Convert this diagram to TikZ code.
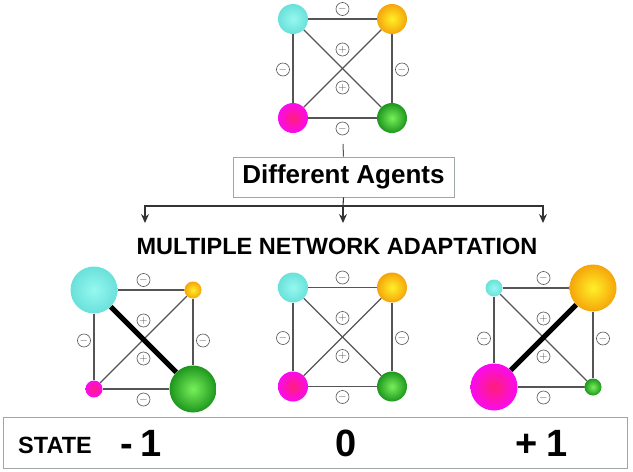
\documentclass[tikz,border=0pt]{standalone}
\usepackage{fontspec}
\setmainfont{Liberation Sans}
\usetikzlibrary{positioning}
\usetikzlibrary{arrows.meta}
\definecolor{cyanhi}{RGB}{150,248,240}
\definecolor{cyanlo}{RGB}{105,225,218}
\definecolor{yellowhi}{RGB}{255,240,40}
\definecolor{yellowlo}{RGB}{245,165,10}
\definecolor{magentahi}{RGB}{255,30,120}
\definecolor{magentalo}{RGB}{250,10,240}
\definecolor{greenhi}{RGB}{120,240,90}
\definecolor{greenlo}{RGB}{30,150,30}
\definecolor{wire}{RGB}{85,85,85}
\definecolor{frame}{RGB}{160,165,165}
\tikzset{
  ball/.style={circle, inner sep=0pt, shading=radial},
  cyanball/.style={ball, inner color=cyanhi, outer color=cyanlo},
  yellowball/.style={ball, inner color=yellowhi, outer color=yellowlo},
  magentaball/.style={ball, inner color=magentahi, outer color=magentalo},
  greenball/.style={ball, inner color=greenhi, outer color=greenlo},
  wireline/.style={draw=wire, line width=1.3pt},
  bond/.style={draw=black, line width=5pt},
  sign/.style={circle, draw=wire, line width=0.6pt, minimum size=13pt, inner sep=0pt, text=wire, font=\fontsize{11}{11}\selectfont},
  label box/.style={draw=frame, line width=0.8pt},
  split arrow/.style={black!80, line width=1.1pt, -{Stealth[length=9pt, width=8pt]}}
}
% one agent network: prefix, centre x, centre y, ball sizes (cyan, yellow, magenta, green)
\newcommand{\agentnet}[7]{
  \node[cyanball, minimum size=#4] (#1c) at (#2-49.5, #3-49.5) {};
  \node[yellowball, minimum size=#5] (#1y) at (#2+49.5, #3-49.5) {};
  \node[magentaball, minimum size=#6] (#1m) at (#2-49.5, #3+49.5) {};
  \node[greenball, minimum size=#7] (#1g) at (#2+49.5, #3+49.5) {};
  \draw[wireline] (#1c) -- (#1y);
  \draw[wireline] (#1c) -- (#1m);
  \draw[wireline] (#1y) -- (#1g);
  \draw[wireline] (#1m) -- (#1g);
  \draw[wireline] (#1c) -- (#1g);
  \draw[wireline] (#1y) -- (#1m);
  \node[sign] (#1top) at (#2, #3-59.5) {$-$};
  \node[sign] (#1bot) at (#2, #3+60) {$-$};
  \node[sign] (#1lft) at (#2-59.5, #3+1) {$-$};
  \node[sign] (#1rgt) at (#2+59.5, #3+1) {$-$};
  \node[sign] (#1up) at (#2, #3-19) {$+$};
  \node[sign] (#1dn) at (#2, #3+19) {$+$};
}

\begin{document}
\begin{tikzpicture}[x=1pt, y=-1pt]
    \useasboundingbox[fill=white] (0,0) rectangle (633,472);

    % agents before adaptation
    \agentnet{t}{342.5}{68.5}{30pt}{30pt}{30pt}{30pt}

    \node[label box, minimum width=221pt, minimum height=40pt, font=\bfseries\fontsize{26}{30}\selectfont] (agents) at (343.5,177) {Different Agents};
    \coordinate (stem) at (343,144);
    \draw[wire, line width=1pt] (stem) -- (agents.north);

    \coordinate (split) at (343,206);
    \coordinate (tipL) at (145,223);
    \coordinate (tipM) at (343,223);
    \coordinate (tipR) at (543,223);
    \draw[black!80, line width=1.1pt] (agents.south) -- (split);
    \draw[split arrow] (split) -| (tipL);
    \draw[split arrow] (split) -- (tipM);
    \draw[split arrow] (split) -| (tipR);

    \node[font=\bfseries\fontsize{23.5}{28}\selectfont] (title) at (337,246.5) {MULTIPLE NETWORK ADAPTATION};

    % three adapted states
    \agentnet{l}{143.5}{339.5}{47pt}{17pt}{17pt}{47pt}
    \agentnet{m}{342.5}{337}{30pt}{30pt}{30pt}{30pt}
    \agentnet{r}{543.5}{337.5}{17pt}{47pt}{47pt}{17pt}
    \draw[bond] (lc) -- (lg);
    \draw[bond] (rm) -- (ry);

    % state row
    \node[label box, minimum width=624pt, minimum height=51pt] (state) at (315,442.5) {};
    \node[font=\bfseries\fontsize{23.5}{28}\selectfont] (statelab) at (55,445.5) {STATE};
    \node[font=\bfseries\fontsize{38}{44}\selectfont] (sminus) at (141,443) {-\hspace{7pt}1};
    \node[font=\bfseries\fontsize{38}{44}\selectfont] (szero) at (346,443) {0};
    \node[font=\bfseries\fontsize{38}{44}\selectfont] (splus) at (542,443) {+\hspace{9pt}1};
\end{tikzpicture}
\end{document}
